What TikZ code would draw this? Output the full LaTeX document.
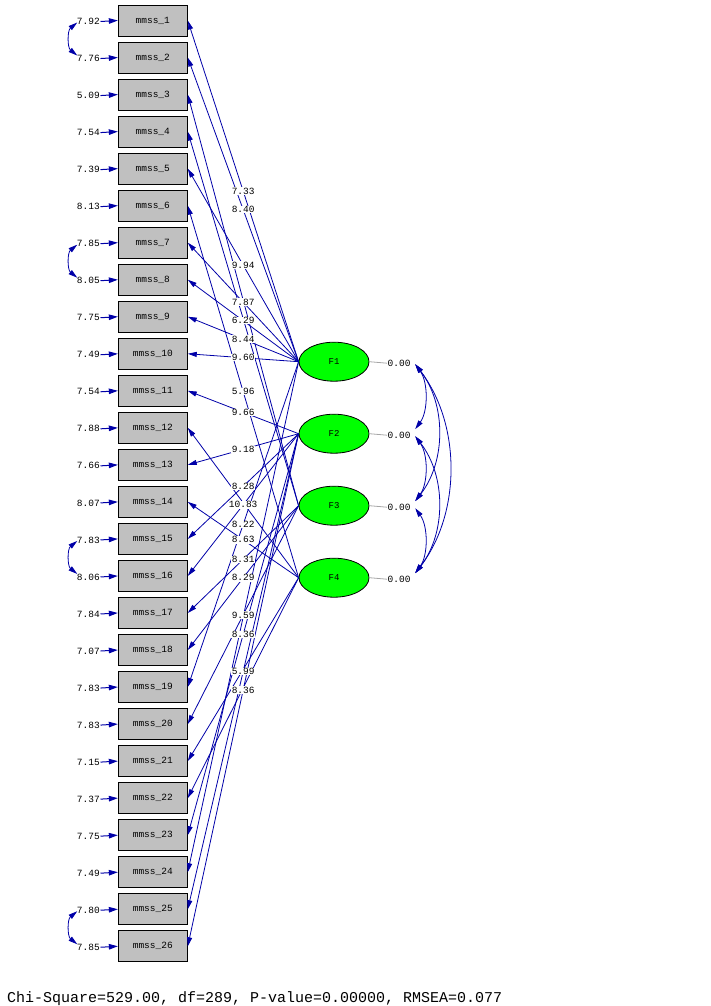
\documentclass[tikz,border=0pt]{standalone}
\usepackage{fontspec}
\setmonofont{Liberation Mono}
\usetikzlibrary{arrows.meta,calc,shapes.geometric}
\definecolor{lb}{RGB}{0,0,168}
\definecolor{boxgray}{RGB}{192,192,192}
\definecolor{fgreen}{RGB}{0,255,0}
\begin{document}
\begin{tikzpicture}[x=1pt,y=-1pt,
  obs/.style={draw=black,fill=boxgray,minimum width=69pt,minimum height=31pt,inner sep=0pt,line width=0.9pt,font=\ttfamily\fontsize{9.5}{10}\selectfont},
  lat/.style={ellipse,draw=black,fill=fgreen,minimum width=70pt,minimum height=39pt,inner sep=0pt,line width=0.8pt,font=\ttfamily\fontsize{9}{10}\selectfont},
  num/.style={font=\ttfamily\fontsize{9.5}{10}\selectfont,inner sep=0.5pt},
  lab/.style={num,fill=white},
  load/.style={draw=lb,line width=0.8pt,-{Triangle[length=9pt,width=5pt]}},
  errarr/.style={draw=lb,line width=1pt,-{Triangle[length=9pt,width=5.5pt]}},
  corr/.style={draw=lb,line width=0.8pt,{Triangle[length=9pt,width=5pt]}-{Triangle[length=9pt,width=5pt]}},
  glink/.style={draw=gray!70,line width=0.8pt}
]
\useasboundingbox (0,0) rectangle (711,1006);

% observed variables and error variances
\foreach \i/\e in {1/7.92,2/7.76,3/5.09,4/7.54,5/7.39,6/8.13,7/7.85,8/8.05,9/7.75,10/7.49,11/7.54,12/7.88,13/7.66,14/8.07,15/7.83,16/8.06,17/7.84,18/7.07,19/7.83,20/7.83,21/7.15,22/7.37,23/7.75,24/7.49,25/7.80,26/7.85} {
  \pgfmathsetmacro\yy{20.5+37.03*(\i-1)}
  \node[obs] (m\i) at (152.8,\yy) {mmss\_\i};
  \node[num,anchor=east] (e\i) at (100.5,\yy+1) {\e};
  \draw[errarr] (e\i.east) -- (m\i.west);
}

% error covariances
\foreach \a/\b in {1/2,7/8,15/16,25/26}
  \draw[corr] ($(e\a.west)+(1,1)$) .. controls +(-10,8) and +(-10,-8) .. ($(e\b.west)+(1,-3)$);

% latent variables
\foreach \j/\y in {1/361.7,2/433.7,3/505.7,4/577.7} {
  \node[lat] (F\j) at (334,\y) {F\j};
  \node[num,anchor=west] (v\j) at (387,\y+1.5) {0.00};
  \draw[glink] (F\j.east) -- (v\j.west);
}

% loadings
\foreach \i/\f in {1/1,2/1,3/3,4/3,5/1,6/4,7/1,8/1,9/1,10/1,11/2,12/4,13/2,14/4,15/2,16/2,17/3,18/3,19/1,20/3,21/4,22/4,23/2,24/1,25/2,26/2}
  \draw[load] (F\f.west) -- (m\i.east);

% loading labels
\foreach \i/\f/\t in {1/1/7.33,2/1/8.40,5/1/9.94,6/4/5.96,7/1/7.87,8/1/6.29,9/1/8.44,10/1/9.60,11/2/9.66,13/2/9.18,14/4/8.63,15/2/8.28,16/2/10.83,17/3/8.31,18/3/8.29,19/1/8.22,20/3/9.59,23/2/8.36,25/2/5.99,26/2/8.36}
  \path (F\f.west) -- (m\i.east) node[lab,pos=0.5] {\t};

% factor correlations
\foreach \a/\b/\c/\d in {1/2/13/18,2/3/13/18,3/4/13/18,1/3/31/40,2/4/31/40,1/4/46/60}
  \draw[corr] ($(v\a.east)+(4,1)$) .. controls +(\c,\d) and +(\c,-\d) .. ($(v\b.east)+(4,-6)$);

\node[font=\ttfamily\fontsize{15}{16}\selectfont,anchor=west,inner sep=0pt] (chi) at (7,999) {Chi-Square=529.00, df=289, P-value=0.00000, RMSEA=0.077};
\end{tikzpicture}
\end{document}
